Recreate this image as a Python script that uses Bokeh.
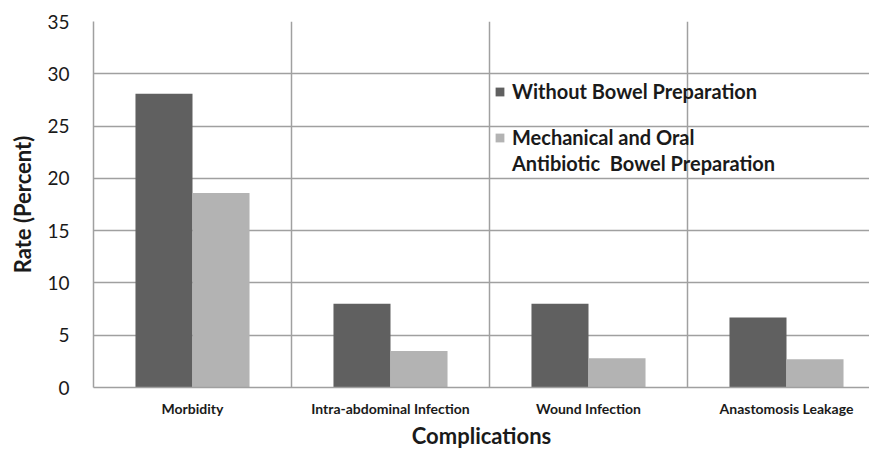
from bokeh.plotting import figure
from bokeh.models import FixedTicker, Range1d, ColumnDataSource, Legend, LegendItem
from bokeh.transform import dodge
from bokeh.embed import file_html
from bokeh.resources import INLINE

categories = ["Morbidity", "Intra-abdominal Infection", "Wound Infection", "Anastomosis Leakage"]
without_prep = [28.1, 8.0, 8.0, 6.7]
mech_oral_prep = [18.6, 3.5, 2.8, 2.7]
y_ticks = [0, 5, 10, 15, 20, 25, 30, 35]
series_names = ["Without Bowel Preparation", "Mechanical and Oral", "Antibiotic  Bowel Preparation"]

FONT = "Lato"
DARK = "#606060"
LIGHT = "#b3b3b3"
GRID = "#a0a0a0"
TXT = "#1a1a1a"

centers = [i + 0.5 for i in range(len(categories))]
src = ColumnDataSource(dict(x=centers, a=without_prep, b=mech_oral_prep))

W = 869
LEFT = 93
p = figure(width=W, height=452, output_backend="svg", toolbar_location=None,
           x_range=Range1d(0, (W - LEFT) / 198.0), y_range=Range1d(0, 35),
           min_border_left=LEFT, min_border_right=0, min_border_top=21, min_border_bottom=65)
p.outline_line_color = None

bw = 0.288
r1 = p.vbar(x=dodge("x", -bw / 2, range=p.x_range), top="a", width=bw, source=src,
            fill_color=DARK, line_color=None)
r2 = p.vbar(x=dodge("x", bw / 2, range=p.x_range), top="b", width=bw, source=src,
            fill_color=LIGHT, line_color=None)
dummy = p.vbar(x=[], top=[], width=bw, fill_alpha=0, line_alpha=0)

p.xaxis.ticker = FixedTicker(ticks=centers)
p.xaxis.major_label_overrides = {c: lab for c, lab in zip(centers, categories)}
p.yaxis.ticker = FixedTicker(ticks=y_ticks)

p.xgrid.ticker = FixedTicker(ticks=[1, 2, 3, 4])
for g in (p.xgrid, p.ygrid):
    g.grid_line_color = GRID
    g.grid_line_width = 1.5

for ax in (p.xaxis, p.yaxis):
    ax.axis_line_color = GRID
    ax.axis_line_width = 1.5
    ax.major_tick_line_color = None
    ax.minor_tick_line_color = None
    ax.major_tick_out = 0
    ax.major_tick_in = 0
    ax.minor_tick_out = 0
    ax.major_label_text_font = FONT
    ax.axis_label_text_font = FONT
    ax.major_label_text_color = TXT
    ax.axis_label_text_color = TXT
    ax.axis_label_text_font_style = "bold"

p.yaxis.major_label_text_font_size = "19px"
p.yaxis.major_label_standoff = 24
p.yaxis.axis_label = "Rate (Percent)"
p.yaxis.axis_label_text_font_size = "22px"
p.yaxis.axis_label_standoff = 8

p.xaxis.major_label_text_font_size = "14px"
p.xaxis.major_label_text_font_style = "bold"
p.xaxis.major_label_standoff = 12
p.xaxis.axis_label = "Complications"
p.xaxis.axis_label_text_font_size = "22px"
p.xaxis.axis_label_standoff = 2


def make_legend(items, loc, spacing):
    lg = Legend(items=items, location=loc)
    lg.background_fill_alpha = 0
    lg.border_line_color = None
    lg.padding = 0
    lg.margin = 0
    lg.spacing = spacing
    lg.glyph_width = 11
    lg.glyph_height = 11
    lg.label_standoff = 7
    lg.label_height = 24
    lg.label_text_font = FONT
    lg.label_text_font_style = "bold"
    lg.label_text_font_size = "20px"
    lg.label_text_color = TXT
    lg.label_text_baseline = "middle"
    return lg


leg_a = make_legend([LegendItem(label=series_names[0], renderers=[r1])], (401, 284), 0)
leg_b = make_legend([LegendItem(label=series_names[1], renderers=[r2]),
                     LegendItem(label=series_names[2], renderers=[dummy])], (401, 212), 2)
p.add_layout(leg_a)
p.add_layout(leg_b)

open("out.html", "w").write(file_html(p, INLINE))
